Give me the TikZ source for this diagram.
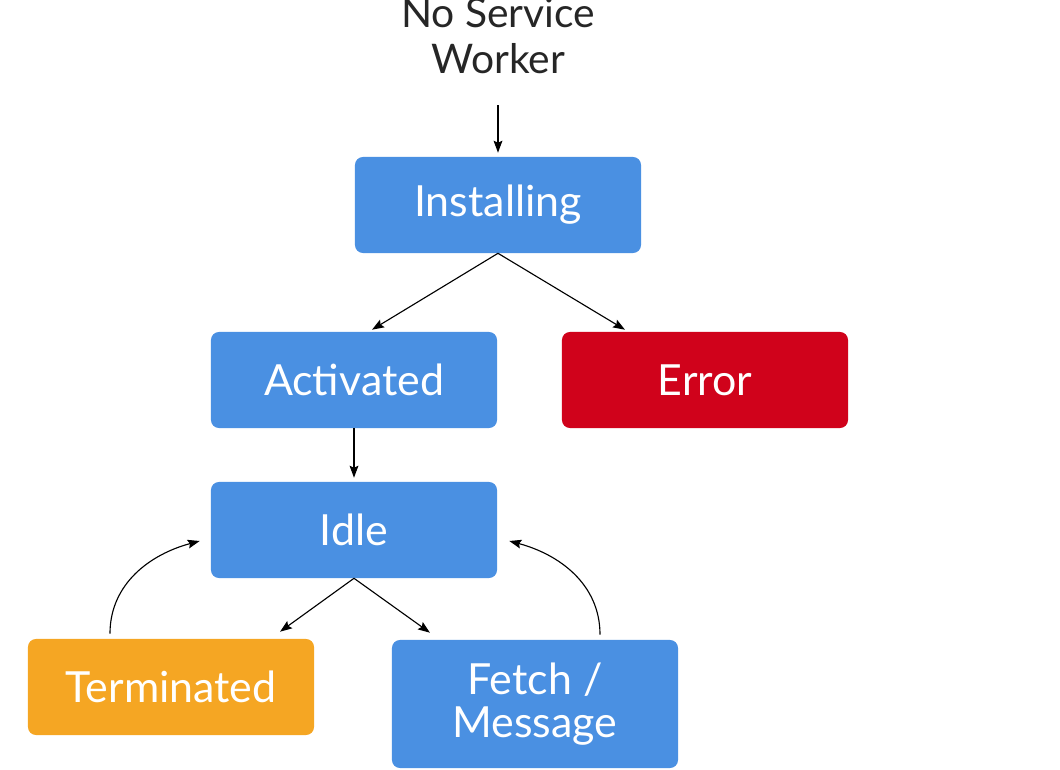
\documentclass[tikz,border=0pt]{standalone}
\usepackage{fontspec}
\setmainfont{Lato}
\usetikzlibrary{arrows.meta}
\definecolor{swblue}{HTML}{4A90E2}
\definecolor{swred}{HTML}{D0021B}
\definecolor{sworange}{HTML}{F5A623}

\begin{document}
\begin{tikzpicture}[
    x=0.025cm, y=-0.025cm,
    statenode/.style={rounded corners=0.2cm, minimum width=7.15cm, minimum height=2.4cm, inner sep=0, text=white, align=center, font=\fontsize{30.5}{31}\selectfont},
    arrow/.style={line width=0.8pt, -{Stealth[length=0.3cm, width=0.22cm, inset=0.05cm]}}
]
\useasboundingbox (0,0) rectangle (1060,770);

\node[anchor=south, inner sep=0, align=center, text=black!85, font=\fontsize{29}{33}\selectfont](nosw) at (498,74) {No Service\\Worker};

\node[statenode, fill=swblue](inst) at (498,205) {Installing};
\node[statenode, fill=swblue](act) at (354,380) {Activated};
\node[statenode, fill=swred](err) at (705,380) {Error};
\node[statenode, fill=swblue](idle) at (354,530) {Idle};
\node[statenode, fill=sworange](term) at (171,687) {Terminated};
\node[statenode, fill=swblue, minimum height=3.2cm](fetch) at (535,704) {Fetch /\\Message};

\draw[arrow] ([yshift=-0.78cm]nosw.south) -- ([yshift=0.1cm]inst.north);
\draw[arrow] (inst.south) -- ([xshift=0.45cm, yshift=0.05cm]act.north);
\draw[arrow] (inst.south) -- ([xshift=-2cm, yshift=0.05cm]err.north);
\draw[arrow] (act.south) -- ([yshift=0.1cm]idle.north);
\draw[arrow] (idle.south) -- ([xshift=2.725cm, yshift=0.175cm]term.north);
\draw[arrow] (idle.south) -- ([xshift=-2.625cm, yshift=0.175cm]fetch.north);
\draw[arrow] ([xshift=-1.525cm, yshift=0.125cm]term.north) to[out=90, in=195] ([xshift=-0.275cm, yshift=-0.275cm]idle.west);
\draw[arrow] ([xshift=1.625cm, yshift=0.125cm]fetch.north) to[out=90, in=-15] ([xshift=0.3cm, yshift=-0.275cm]idle.east);
\end{tikzpicture}
\end{document}
